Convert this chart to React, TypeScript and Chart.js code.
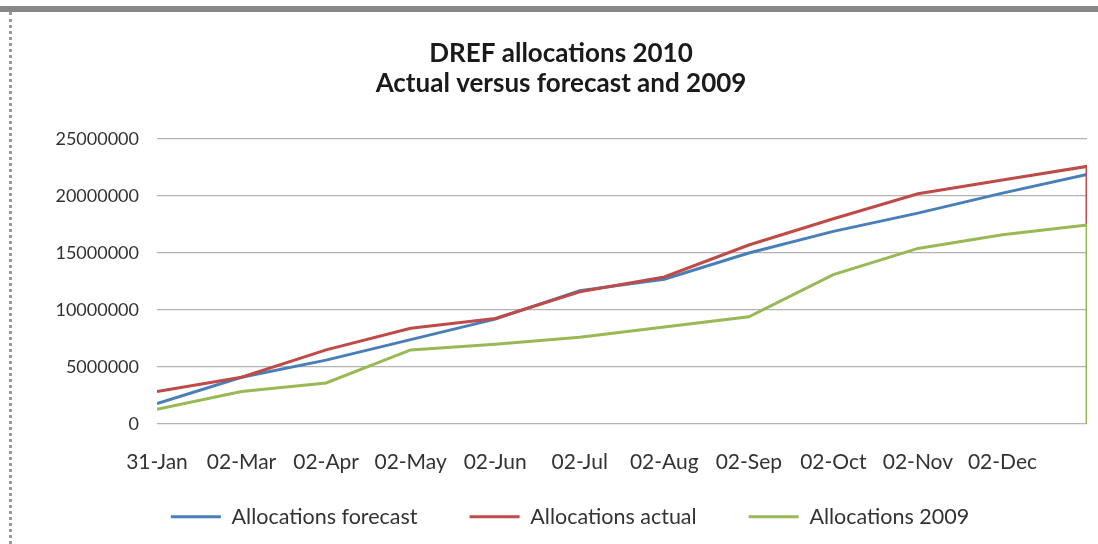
import React, { useEffect, useRef } from "react";
import { Chart, registerables } from "chart.js";

Chart.register(...registerables);

const tickLabels = ["31-Jan", "02-Mar", "02-Apr", "02-May", "02-Jun", "02-Jul", "02-Aug", "02-Sep", "02-Oct", "02-Nov", "02-Dec", ""];
const forecast = [1800000, 4100000, 5600000, 7400000, 9200000, 11700000, 12700000, 15000000, 16900000, 18500000, 20250000, 21900000];
const actual = [2850000, 4100000, 6500000, 8400000, 9250000, 11600000, 12900000, 15700000, 18000000, 20200000, 21400000, 22600000];
const allocations2009 = [1300000, 2850000, 3600000, 6500000, 7000000, 7600000, 8500000, 9400000, 13100000, 15400000, 16600000, 17450000];
const actualFinalDrop = 17450000;
const allocations2009FinalDrop = 0;

const seriesNames = ["Allocations forecast", "Allocations actual", "Allocations 2009"];
const seriesColors = ["#4a7ebb", "#be4b48", "#98b954"];

const toPoints = (vals: number[]) => vals.map((v, i) => ({ x: i, y: v }));

const legendShift = {
  id: "legendShift",
  afterLayout(chart: any) {
    const l = chart.legend;
    if (l) {
      l.left += 9;
      l.right += 9;
      l.top -= 22;
      l.bottom -= 22;
    }
  },
};

export default function App() {
  const ref = useRef<HTMLCanvasElement | null>(null);

  useEffect(() => {
    if (!ref.current) return;
    document.body.style.overflow = "hidden";
    const last = tickLabels.length - 1;
    const chart = new Chart(ref.current, {
      type: "line",
      plugins: [legendShift],
      data: {
        datasets: [
          {
            label: seriesNames[0],
            data: toPoints(forecast),
            borderColor: seriesColors[0],
            backgroundColor: seriesColors[0],
            borderWidth: 3,
            pointRadius: 0,
            tension: 0,
            order: 3,
          },
          {
            label: seriesNames[1],
            data: [...toPoints(actual), { x: last, y: actualFinalDrop }],
            borderColor: seriesColors[1],
            backgroundColor: seriesColors[1],
            borderWidth: 3,
            pointRadius: 0,
            tension: 0,
            order: 2,
          },
          {
            label: seriesNames[2],
            data: [...toPoints(allocations2009), { x: last, y: allocations2009FinalDrop }],
            borderColor: seriesColors[2],
            backgroundColor: seriesColors[2],
            borderWidth: 3,
            pointRadius: 0,
            tension: 0,
            order: 1,
          },
        ],
      },
      options: {
        animation: false,
        responsive: true,
        maintainAspectRatio: false,
        layout: { padding: { left: 0, right: 11, top: 0, bottom: -15.5 } },
        plugins: {
          title: {
            display: true,
            text: ["DREF allocations 2010", "Actual versus forecast and 2009"],
            font: { family: "Lato", size: 26, weight: "bold", lineHeight: 30 / 26 },
            color: "#1a1a1a",
            padding: { top: 27, bottom: 40 },
          },
          legend: {
            display: true,
            position: "bottom",
            labels: {
              boxWidth: 50,
              boxHeight: 3,
              padding: 52,
              color: "#333333",
              font: { family: "Lato", size: 21.5 },
              sort: (a: any, b: any) => a.datasetIndex - b.datasetIndex,
              generateLabels: (c: any) =>
                Chart.defaults.plugins.legend.labels.generateLabels(c).map((l: any) => ({ ...l, lineWidth: 0 })),
            },
          },
          tooltip: { enabled: false },
        },
        scales: {
          x: {
            type: "linear",
            min: 0,
            max: last,
            grid: { display: false, drawTicks: false },
            border: { display: false },
            ticks: {
              stepSize: 1,
              autoSkip: false,
              maxRotation: 0,
              padding: 25.4,
              color: "#333333",
              font: { family: "Lato", size: 21 },
              callback: (v: any) => tickLabels[Number(v)] ?? "",
            },
            afterFit: (s: any) => {
              s.height = 52;
              s.paddingLeft = 0;
              s.paddingRight = 0;
            },
          },
          y: {
            min: 0,
            max: 25000000,
            grid: { color: "#b4b4b4", lineWidth: 1.2, drawTicks: false },
            border: { display: false },
            ticks: {
              stepSize: 5000000,
              padding: 18,
              color: "#333333",
              font: { family: "Lato", size: 18 },
              callback: (v: any) => String(v),
            },
            afterFit: (s: any) => {
              s.width = 122;
            },
          },
        },
      },
    });
    return () => chart.destroy();
  }, []);

  return (
    <div style={{ position: "absolute", left: 0, top: 0, width: 1098, height: 544, background: "#ffffff", overflow: "hidden" }}>
      <div style={{ position: "absolute", left: 0, top: 6, width: 1098, height: 6, background: "#888888" }} />
      <div style={{ position: "absolute", left: 9, top: 12, width: 0, height: 532, borderLeft: "3px dotted #9a9a9a" }} />
      <div style={{ position: "absolute", left: 35, top: 12, width: 1063, height: 532 }}>
        <canvas ref={ref} />
      </div>
    </div>
  );
}
